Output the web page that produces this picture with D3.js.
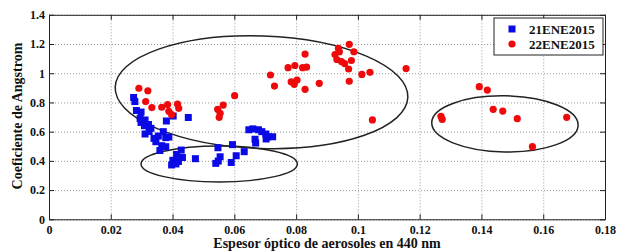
<!DOCTYPE html>
<html><head><meta charset="utf-8">
<script src="https://cdn.jsdelivr.net/npm/d3@7"></script>
<style>body{margin:0;background:#fff}svg{display:block}</style>
</head><body>
<svg id="c" width="617" height="251"></svg>
<script>
// ---- data ----
const xTickValues = [0, 0.02, 0.04, 0.06, 0.08, 0.1, 0.12, 0.14, 0.16, 0.18];
const xTickLabels = ["0", "0.02", "0.04", "0.06", "0.08", "0.1", "0.12", "0.14", "0.16", "0.18"];
const yTickValues = [0, 0.2, 0.4, 0.6, 0.8, 1, 1.2, 1.4];
const yTickLabels = ["0", "0.2", "0.4", "0.6", "0.8", "1", "1.2", "1.4"];
const seriesNames = ["21ENE2015", "22ENE2015"];
const xTitle = "Espesor óptico de aerosoles en 440 nm";
const yTitle = "Coeficiente de Angstrom";

// 21ENE2015 : [AOD 440 nm, Angstrom]
const series21 = [
  [0.0274,0.834],[0.0278,0.806],[0.0283,0.745],[0.0298,0.734],[0.0295,0.690],
  [0.0311,0.680],[0.0298,0.663],[0.0309,0.641],[0.0322,0.649],[0.0330,0.623],
  [0.0311,0.584],[0.0324,0.601],[0.0340,0.554],[0.0354,0.570],[0.0370,0.600],
  [0.0378,0.559],[0.0388,0.563],[0.0346,0.531],[0.0365,0.504],[0.0378,0.497],
  [0.0359,0.471],[0.0380,0.673],[0.0402,0.707],[0.0451,0.697],[0.0413,0.444],
  [0.0428,0.474],[0.0432,0.423],[0.0401,0.404],[0.0419,0.396],[0.0397,0.372],
  [0.0411,0.379],[0.0474,0.415],[0.0547,0.490],[0.0554,0.428],[0.0548,0.399],
  [0.0540,0.383],[0.0594,0.511],[0.0606,0.435],[0.0590,0.389],[0.0632,0.463],
  [0.0647,0.613],[0.0660,0.619],[0.0678,0.613],[0.0689,0.600],[0.0702,0.584],
  [0.0709,0.565],[0.0724,0.565],[0.0667,0.548],[0.0669,0.522],[0.0703,0.550]
];
// 22ENE2015 : [AOD 440 nm, Angstrom]
const series22 = [
  [0.0291,0.897],[0.0320,0.880],[0.0313,0.806],[0.0333,0.765],[0.0365,0.767],
  [0.0384,0.786],[0.0388,0.739],[0.0397,0.716],[0.0416,0.789],[0.0420,0.760],
  [0.0601,0.846],[0.0564,0.782],[0.0546,0.753],[0.0554,0.726],[0.0551,0.698],
  [0.0717,0.988],[0.0730,0.912],[0.0774,1.038],[0.0796,1.053],[0.0829,1.131],
  [0.0821,1.038],[0.0834,1.042],[0.0784,0.941],[0.0803,0.953],[0.0794,0.924],
  [0.0829,0.890],[0.0875,0.931],[0.0972,1.198],[0.0937,1.170],[0.0940,1.147],
  [0.0987,1.147],[0.0926,1.128],[0.0932,1.094],[0.0947,1.080],[0.0957,1.066],
  [0.0979,1.087],[0.0970,1.029],[0.0972,0.945],[0.1013,0.992],[0.1039,1.006],
  [0.1156,1.032],[0.1047,0.680],[0.1269,0.705],[0.1273,0.684],[0.1393,0.908],
  [0.1419,0.885],[0.1438,0.753],[0.1469,0.741],[0.1516,0.689],[0.1676,0.698],
  [0.1565,0.497]
];
// annotation ellipses in data units: centre x, centre y, half-width, half-height, tilt (deg)
const ellipseCx = [0.0688, 0.0551, 0.1476];
const ellipseCy = [0.870, 0.379, 0.653];
const ellipseRx = [0.0474, 0.0253, 0.0237];
const ellipseRy = [0.385, 0.123, 0.192];
const ellipseTilt = [2, 0, 1];

// ---- layout ----
const W = 617, H = 251;
const m = {left: 49, right: 12, top: 14.8, bottom: 31.7};
const iw = W - m.left - m.right, ih = H - m.top - m.bottom;
const svg = d3.select("#c");
const g = svg.append("g").attr("transform", `translate(${m.left},${m.top})`);
const x = d3.scaleLinear().domain([0, 0.18]).range([0, iw]);
const y = d3.scaleLinear().domain([0, 1.4]).range([ih, 0]);
const font = "Liberation Serif, DejaVu Serif, serif";

// grid
const gx = g.append("g").attr("transform", `translate(0,${ih})`)
  .call(d3.axisBottom(x).tickValues(xTickValues).tickSize(-ih).tickFormat(""));
const gy = g.append("g")
  .call(d3.axisLeft(y).tickValues(yTickValues).tickSize(-iw).tickFormat(""));
[gx, gy].forEach(a => {
  a.select(".domain").remove();
  a.selectAll("line").attr("stroke", "#9a9a9a").attr("stroke-width", 1).attr("stroke-dasharray", "1,2");
});

// ellipses
const ellipses = ellipseCx.map((c, i) => ({cx: c, cy: ellipseCy[i], rx: ellipseRx[i], ry: ellipseRy[i], t: ellipseTilt[i]}));
g.selectAll("ellipse.ann").data(ellipses).join("ellipse")
  .attr("class", "ann")
  .attr("transform", d => `translate(${x(d.cx)},${y(d.cy)}) rotate(${d.t})`)
  .attr("rx", d => x(d.cx + d.rx) - x(d.cx))
  .attr("ry", d => y(d.cy - d.ry) - y(d.cy))
  .attr("fill", "none").attr("stroke", "#222").attr("stroke-width", 1.5);

// points
const sq = 7;
g.selectAll("rect.p21").data(series21).join("rect")
  .attr("class", "p21")
  .attr("x", d => x(d[0]) - sq / 2).attr("y", d => y(d[1]) - sq / 2)
  .attr("width", sq).attr("height", sq).attr("fill", "#0a0ae6");
g.selectAll("circle.p22").data(series22).join("circle")
  .attr("class", "p22")
  .attr("cx", d => x(d[0])).attr("cy", d => y(d[1])).attr("r", 3.6)
  .attr("fill", "#ee0a0a");

// axes (inward ticks on all sides)
const styleAxis = (a) => {
  a.select(".domain").attr("stroke", "#222").attr("stroke-width", 1);
  a.selectAll(".tick line").attr("stroke", "#222");
  a.selectAll("text").attr("font-family", font).attr("font-weight", "bold")
    .attr("font-size", "12px").attr("fill", "#111");
};
const ax = g.append("g").attr("transform", `translate(0,${ih})`)
  .call(d3.axisBottom(x).tickValues(xTickValues).tickSizeInner(-5).tickSizeOuter(0).tickPadding(6)
    .tickFormat((d, i) => xTickLabels[i]));
styleAxis(ax);
const ay = g.append("g")
  .call(d3.axisLeft(y).tickValues(yTickValues).tickSizeInner(-5).tickSizeOuter(0).tickPadding(4)
    .tickFormat((d, i) => yTickLabels[i]));
styleAxis(ay);
const at = g.append("g")
  .call(d3.axisTop(x).tickValues(xTickValues).tickSizeInner(-5).tickSizeOuter(0).tickFormat(""));
styleAxis(at);
const ar = g.append("g").attr("transform", `translate(${iw},0)`)
  .call(d3.axisRight(y).tickValues(yTickValues).tickSizeInner(-5).tickSizeOuter(0).tickFormat(""));
styleAxis(ar);

// titles
svg.append("text").attr("x", m.left + iw / 2).attr("y", 248)
  .attr("text-anchor", "middle").attr("font-family", font).attr("font-weight", "bold")
  .attr("font-size", "14px").attr("fill", "#111").text(xTitle);
svg.append("text").attr("transform", `translate(22,${m.top + ih / 2 - 1}) rotate(-90)`)
  .attr("text-anchor", "middle").attr("font-family", font).attr("font-weight", "bold")
  .attr("font-size", "14px").attr("fill", "#111").text(yTitle);

// legend
const lg = svg.append("g").attr("transform", "translate(494,18)");
lg.append("rect").attr("width", 109).attr("height", 37).attr("fill", "#fff")
  .attr("stroke", "#222").attr("stroke-width", 1);
lg.append("rect").attr("x", 18 - 3.5).attr("y", 11 - 3.5).attr("width", 7).attr("height", 7).attr("fill", "#0a0ae6");
lg.append("circle").attr("cx", 18).attr("cy", 26).attr("r", 3.6).attr("fill", "#ee0a0a");
lg.selectAll("text.lt").data(seriesNames).join("text").attr("class", "lt")
  .attr("x", 35).attr("y", (d, i) => 15.5 + i * 15)
  .attr("font-family", font).attr("font-weight", "bold").attr("font-size", "13px").attr("fill", "#111")
  .text(d => d);
</script>
</body></html>
